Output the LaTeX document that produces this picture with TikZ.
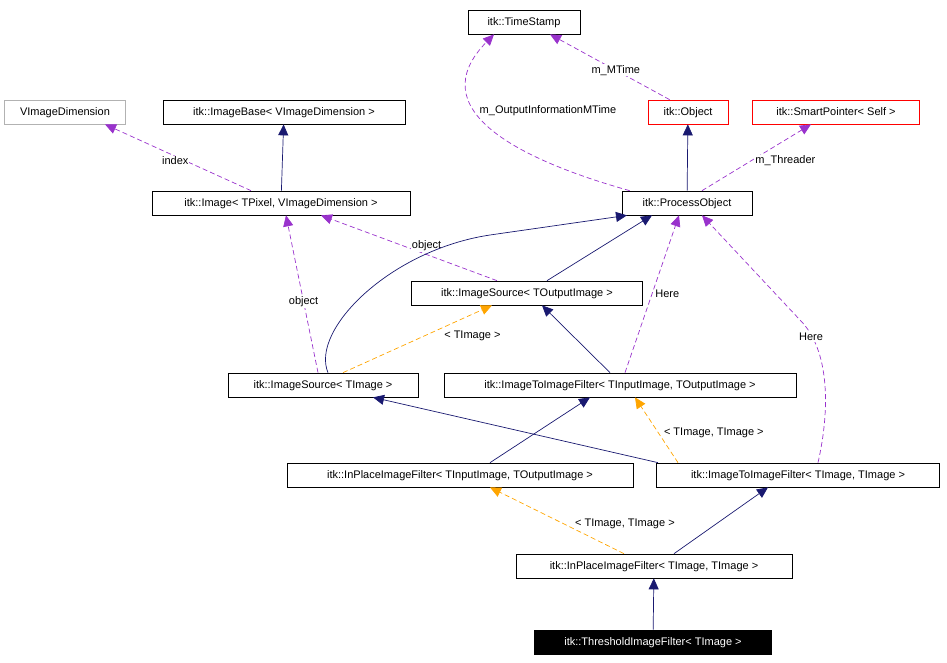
\documentclass[tikz,border=0pt]{standalone}
\usepackage{fontspec}
\setmainfont{Liberation Sans}
\usetikzlibrary{arrows.meta,calc}
\definecolor{nav}{RGB}{25,25,112}
\definecolor{purp}{RGB}{153,50,204}
\definecolor{orng}{RGB}{255,165,0}
\tikzset{
 box/.style={draw,fill=white,inner sep=0pt,minimum height=24pt,font=\fontsize{11}{13}\selectfont,line width=0.7pt,text depth=1pt},
 inh/.style={draw=nav,-{Triangle[length=11pt,width=10pt]},line width=0.7pt},
 use/.style={draw=purp,dashed,dash pattern=on 5pt off 3pt,-{Triangle[length=11pt,width=10pt]},line width=0.7pt},
 tmpl/.style={draw=orng,dashed,dash pattern=on 5pt off 3pt,-{Triangle[length=11pt,width=10pt]},line width=0.7pt},
 lab/.style={font=\fontsize{11}{13}\selectfont,fill=white,inner sep=1pt}
}
\begin{document}
\begin{tikzpicture}[x=1pt,y=-1pt]
\useasboundingbox (0,0) rectangle (947,663);
\node[box,minimum width=112pt] (ts) at (524,22) {itk::TimeStamp};
\node[box,minimum width=80pt,draw=red] (obj) at (688,112) {itk::Object};
\node[box,minimum width=167pt,draw=red] (sp) at (836,112) {itk::SmartPointer< Self >};
\node[box,minimum width=121pt,draw=gray!60] (vd) at (65,112) {VImageDimension};
\node[box,minimum width=242pt] (ib) at (284,112) {itk::ImageBase< VImageDimension >};
\node[box,minimum width=258pt] (img) at (281,203) {itk::Image< TPixel, VImageDimension >};
\node[box,minimum width=130pt] (po) at (687,203) {itk::ProcessObject};
\node[box,minimum width=231pt] (iso) at (527,293) {itk::ImageSource< TOutputImage >};
\node[box,minimum width=190pt] (isi) at (323,385) {itk::ImageSource< TImage >};
\node[box,minimum width=352pt] (itio) at (620,385) {itk::ImageToImageFilter< TInputImage, TOutputImage >};
\node[box,minimum width=346pt] (ipio) at (460,475) {itk::InPlaceImageFilter< TInputImage, TOutputImage >};
\node[box,minimum width=283pt] (itit) at (798,475) {itk::ImageToImageFilter< TImage, TImage >};
\node[box,minimum width=276pt] (ipit) at (654,566) {itk::InPlaceImageFilter< TImage, TImage >};
\node[box,minimum width=237pt,fill=black,text=white] (thr) at (653,642) {itk::ThresholdImageFilter< TImage >};

\draw[use] ($(obj.north west)+(22,0)$) -- node[lab,pos=0.45]{m\_MTime} ($(ts.south)+(26,0)$);
\draw[use] ($(po.north west)+(8,0)$) .. controls (520,160) and (420,110) .. ($(ts.south)+(-30,0)$);
\node[lab] at (548,111) {m\_OutputInformationMTime};
\draw[inh] (po) -- (obj);
\draw[use] ($(po.north)+(15,0)$) -- node[lab,pos=0.45,right=3pt]{m\_Threader} ($(sp.south)+(-25,0)$);
\draw[use] ($(img.north)+(-30,0)$) -- node[lab,pos=0.45,xshift=-10pt]{index} ($(vd.south)+(40,0)$);
\draw[inh] (img) -- (ib);
\draw[inh] ($(iso.north)+(20,0)$) -- ($(po.south)+(-35,0)$);
\draw[use] ($(iso.north)+(-30,0)$) -- node[lab,pos=0.4,above=2pt]{object} ($(img.south)+(40,0)$);
\draw[inh] ($(isi.north)+(5,0)$) .. controls (310,330) and (390,250) .. (490,235) -- ($(po.south)+(-60,0)$);
\draw[use] ($(isi.north)+(-5,0)$) -- node[lab,pos=0.45]{object} ($(img.south)+(5,0)$);
\draw[tmpl] ($(isi.north)+(20,0)$) -- node[lab,pos=0.55,right=18pt]{< TImage >} ($(iso.south)+(-35,0)$);
\draw[inh] ($(itio.north)+(-10,0)$) -- ($(iso.south)+(15,0)$);
\draw[use] ($(itio.north)+(5,0)$) -- node[lab,pos=0.5,right=2pt]{Here} ($(po.south)+(-8,0)$);
\draw[inh] ($(ipio.north)+(30,0)$) -- ($(itio.south)+(-30,0)$);
\draw[inh] ($(itit.north)+(-140,0)$) -- ($(isi.south)+(50,0)$);
\draw[tmpl] ($(itit.north)+(-120,0)$) -- node[lab,pos=0.45,right=4pt]{< TImage, TImage >} ($(itio.south)+(15,0)$);
\draw[use] ($(itit.north)+(20,0)$) .. controls (830,410) and (830,350) .. (800,320) -- ($(po.south)+(15,0)$);
\node[lab] at (811,337) {Here};
\draw[tmpl] ($(ipit.north)+(-30,0)$) -- node[lab,pos=0.45,right=10pt]{< TImage, TImage >} ($(ipio.south)+(30,0)$);
\draw[inh] ($(ipit.north)+(20,0)$) -- ($(itit.south)+(-30,0)$);
\draw[inh] (thr) -- (ipit);
\end{tikzpicture}
\end{document}
